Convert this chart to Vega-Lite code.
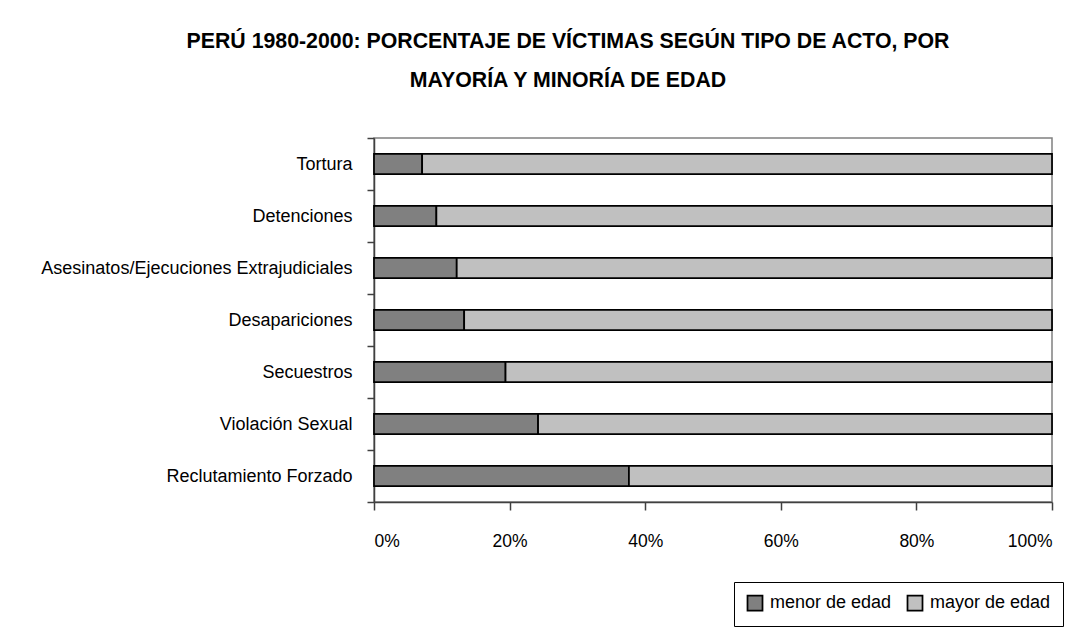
{
  "$schema": "https://vega.github.io/schema/vega-lite/v6.json",
  "width": 678,
  "height": 364,
  "autosize": {"type": "none"},
  "padding": {"left": 374, "top": 138, "right": 39, "bottom": 132},
  "background": "white",
  "title": {
    "text": ["PERÚ 1980-2000: PORCENTAJE DE VÍCTIMAS SEGÚN TIPO DE ACTO, POR", "MAYORÍA Y MINORÍA DE EDAD"],
    "font": "Liberation Sans",
    "fontSize": 21.3,
    "fontWeight": "bold",
    "color": "black",
    "anchor": "middle",
    "frame": "group",
    "dx": -145,
    "baseline": "bottom",
    "lineHeight": 39,
    "offset": 17
  },
  "data": {
    "values": [
      {"acto": "Tortura", "grupo": "menor de edad", "orden": 1, "pct": 7.1},
      {"acto": "Tortura", "grupo": "mayor de edad", "orden": 2, "pct": 92.9},
      {"acto": "Detenciones", "grupo": "menor de edad", "orden": 1, "pct": 9.2},
      {"acto": "Detenciones", "grupo": "mayor de edad", "orden": 2, "pct": 90.8},
      {"acto": "Asesinatos/Ejecuciones Extrajudiciales", "grupo": "menor de edad", "orden": 1, "pct": 12.2},
      {"acto": "Asesinatos/Ejecuciones Extrajudiciales", "grupo": "mayor de edad", "orden": 2, "pct": 87.8},
      {"acto": "Desapariciones", "grupo": "menor de edad", "orden": 1, "pct": 13.3},
      {"acto": "Desapariciones", "grupo": "mayor de edad", "orden": 2, "pct": 86.7},
      {"acto": "Secuestros", "grupo": "menor de edad", "orden": 1, "pct": 19.4},
      {"acto": "Secuestros", "grupo": "mayor de edad", "orden": 2, "pct": 80.6},
      {"acto": "Violación Sexual", "grupo": "menor de edad", "orden": 1, "pct": 24.2},
      {"acto": "Violación Sexual", "grupo": "mayor de edad", "orden": 2, "pct": 75.8},
      {"acto": "Reclutamiento Forzado", "grupo": "menor de edad", "orden": 1, "pct": 37.6},
      {"acto": "Reclutamiento Forzado", "grupo": "mayor de edad", "orden": 2, "pct": 62.4}
    ]
  },
  "mark": {"type": "bar", "stroke": "black", "strokeWidth": 1.75, "height": {"band": 0.39}},
  "encoding": {
    "y": {
      "field": "acto",
      "type": "nominal",
      "sort": ["Tortura", "Detenciones", "Asesinatos/Ejecuciones Extrajudiciales", "Desapariciones", "Secuestros", "Violación Sexual", "Reclutamiento Forzado"],
      "scale": {"paddingInner": 0, "paddingOuter": 0},
      "axis": {
        "title": null,
        "labelFont": "Liberation Sans",
        "labelFontSize": 18,
        "labelColor": "black",
        "labelPadding": 15,
        "labelLimit": 500,
        "tickSize": 7,
        "tickBand": "extent",
        "tickColor": "#404040",
        "domainColor": "#404040",
        "domainWidth": 1.5,
        "tickWidth": 1.5
      }
    },
    "x": {
      "field": "pct",
      "type": "quantitative",
      "stack": "zero",
      "scale": {"domain": [0, 100], "nice": false},
      "axis": {
        "title": null,
        "values": [0, 20, 40, 60, 80, 100],
        "labelExpr": "datum.value + '%'",
        "labelFont": "Liberation Sans",
        "labelFontSize": 17.5,
        "labelColor": "black",
        "labelPadding": 22,
        "tickSize": 8,
        "tickColor": "#404040",
        "domainColor": "#404040",
        "domainWidth": 1.5,
        "tickWidth": 1.5,
        "grid": false
      }
    },
    "color": {
      "field": "grupo",
      "type": "nominal",
      "sort": ["menor de edad", "mayor de edad"],
      "scale": {"domain": ["menor de edad", "mayor de edad"], "range": ["#808080", "#C0C0C0"]},
      "legend": {
        "title": null,
        "orient": "none",
        "direction": "horizontal",
        "legendX": 360,
        "legendY": 444,
        "symbolType": "square",
        "symbolSize": 225,
        "symbolStrokeColor": "black",
        "symbolStrokeWidth": 1.75,
        "symbolOpacity": 1,
        "labelFont": "Liberation Sans",
        "labelFontSize": 18,
        "labelColor": "black",
        "labelOffset": 6,
        "columnPadding": 12,
        "padding": 12,
        "strokeColor": "black",
        "fillColor": "white"
      }
    },
    "order": {"field": "orden", "type": "quantitative"}
  },
  "config": {
    "view": {"stroke": "#808080", "strokeWidth": 1.5}
  }
}
